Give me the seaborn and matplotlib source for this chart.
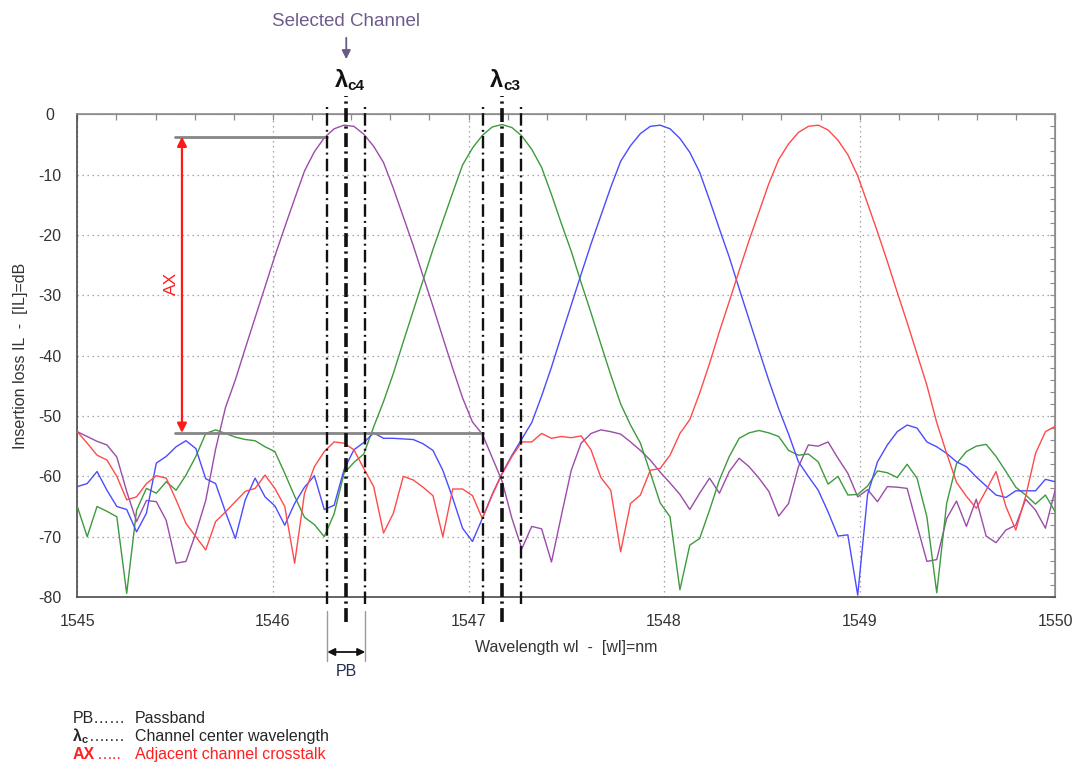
import numpy as np
import pandas as pd
import matplotlib
matplotlib.use("Agg")
import matplotlib.pyplot as plt
import seaborn as sns
from matplotlib.patches import FancyArrowPatch
from matplotlib.ticker import MultipleLocator, StrMethodFormatter

# ---- measured filter transmission, insertion loss in dB ----
wavelength = np.linspace(1545.0, 1550.0, 100)  # nm

il_ch4 = [
    -52.6, -53.4, -54.2, -54.8, -56.8, -62.5, -67.5, -64.0, -64.2, -67.3,
    -74.4, -74.1, -69.4, -64.0, -55.5, -48.6, -44.0, -38.8, -33.7, -28.6,
    -23.5, -18.7, -14.0, -9.4, -6.2, -3.9, -2.4, -1.8, -2.0, -3.3,
    -5.3, -8.0, -12.3, -17.0, -21.7, -26.8, -31.8, -37.0, -42.1, -47.0,
    -51.0, -53.0, -56.9, -60.8, -67.0, -72.0, -68.3, -68.7, -74.2, -66.5,
    -59.0, -54.5, -52.9, -52.3, -52.6, -53.0, -54.3, -55.7, -57.3, -59.3,
    -61.1, -63.0, -65.5, -62.8, -60.3, -62.8, -59.2, -57.0, -58.4, -60.3,
    -62.5, -66.6, -64.5, -58.4, -54.8, -55.0, -54.3, -57.0, -59.5, -63.4,
    -62.2, -64.2, -61.7, -61.8, -62.0, -68.1, -74.1, -73.8, -67.0, -64.1,
    -68.3, -63.8, -69.9, -71.0, -68.9, -68.1, -63.8, -65.6, -68.6, -62.2,
]

il_ch3 = [
    -65.0, -70.0, -65.0, -65.8, -66.7, -79.4, -65.6, -62.0, -62.8, -60.9,
    -62.3, -59.8, -56.7, -52.9, -52.3, -52.9, -53.5, -53.9, -54.1, -55.1,
    -55.9, -59.5, -63.3, -66.8, -68.0, -70.0, -66.2, -59.5, -57.7, -56.3,
    -51.8, -47.6, -42.9, -37.7, -32.6, -27.5, -22.4, -17.7, -13.0, -8.4,
    -5.6, -3.5, -2.1, -1.7, -2.2, -3.6, -5.8, -8.8, -13.3, -18.1,
    -22.7, -27.9, -32.9, -38.1, -43.2, -48.0, -51.5, -54.5, -59.4, -64.4,
    -66.7, -78.8, -71.4, -70.3, -65.6, -60.6, -56.7, -53.7, -52.8, -52.4,
    -52.8, -53.4, -55.7, -56.5, -56.3, -57.6, -61.3, -60.0, -63.1, -63.0,
    -61.6, -59.1, -59.4, -60.2, -58.0, -60.3, -66.7, -79.3, -64.5, -57.9,
    -55.9, -55.0, -54.7, -56.7, -59.2, -61.8, -63.1, -64.6, -63.1, -65.9,
]

il_ch2 = [
    -61.7, -61.2, -59.2, -62.3, -65.0, -65.5, -69.2, -66.1, -57.8, -56.7,
    -55.1, -54.1, -55.4, -60.4, -61.2, -65.9, -70.3, -63.9, -60.3, -63.4,
    -64.9, -68.1, -64.5, -61.8, -59.9, -65.5, -64.8, -58.9, -55.6, -54.4,
    -52.8, -53.7, -53.7, -53.8, -53.9, -54.6, -55.7, -59.0, -63.6, -68.6,
    -70.8, -67.0, -63.0, -59.5, -56.5, -53.8, -51.1, -46.7, -41.9, -36.7,
    -31.6, -26.5, -21.5, -16.8, -12.1, -7.8, -5.2, -3.2, -2.0, -1.8,
    -2.4, -4.0, -6.3, -9.6, -14.2, -19.0, -23.7, -28.9, -34.0, -39.1,
    -44.1, -48.8, -53.0, -57.6, -60.0, -62.3, -65.9, -69.9, -69.7, -79.7,
    -63.0, -57.6, -54.8, -52.6, -51.5, -52.0, -54.3, -55.1, -56.2, -57.6,
    -58.4, -60.1, -61.6, -63.1, -63.5, -62.4, -62.4, -62.4, -60.5, -60.9,
]

il_ch1 = [
    -52.6, -54.5, -56.5, -57.3, -60.0, -63.9, -63.4, -61.2, -59.9, -60.3,
    -63.9, -67.8, -70.0, -72.2, -67.5, -65.9, -64.2, -62.5, -62.0, -59.8,
    -62.0, -65.0, -74.4, -62.8, -58.4, -55.9, -54.3, -54.5, -55.6, -58.7,
    -61.7, -69.4, -66.1, -60.0, -60.6, -61.8, -63.2, -70.0, -62.1, -62.1,
    -63.2, -67.0, -63.1, -59.6, -56.7, -54.3, -54.3, -52.9, -53.7, -53.4,
    -53.6, -53.3, -55.6, -60.2, -62.3, -72.5, -64.5, -63.1, -59.0, -58.7,
    -56.5, -52.9, -50.6, -46.2, -41.3, -36.0, -31.0, -25.9, -20.9, -16.2,
    -11.5, -7.5, -4.9, -3.0, -2.0, -1.8, -2.6, -4.3, -6.7, -10.2,
    -14.8, -19.5, -24.4, -29.5, -34.5, -39.7, -44.9, -51.1, -56.2, -61.0,
    -63.3, -65.3, -62.3, -59.2, -65.0, -68.9, -63.3, -56.2, -52.6, -51.7,
]

channel_names = ["ch4", "ch3", "ch2", "ch1"]
channel_colors = ["#9b4ca9", "#3d9b3d", "#4b4bff", "#ff4a4a"]

# channel centres, passband half-width and crosstalk reference levels
lambda_c4 = 1546.375
lambda_c3 = 1547.170
passband_half = 0.097
ax_top_level = -3.7
ax_floor_level = -52.8
ax_ref_start = 1545.5
ax_arrow_x = 1545.535

df = pd.DataFrame({
    "wavelength": np.tile(wavelength, len(channel_names)),
    "il": np.concatenate([il_ch4, il_ch3, il_ch2, il_ch1]),
    "channel": np.repeat(channel_names, len(wavelength)),
})

# ---- figure / style ----
W, H = 1079, 767
sns.set_style("white")
plt.rcParams["font.family"] = ["Liberation Sans", "DejaVu Sans"]
plt.rcParams["lines.scale_dashes"] = False
plt.rcParams["axes.unicode_minus"] = False

fig = plt.figure(figsize=(W / 100, H / 100), dpi=100)
AX_L, AX_R, AX_T, AX_B = 77.3, 1055.3, 114.3, 597.0
ax = fig.add_axes([AX_L / W, 1 - AX_B / H, (AX_R - AX_L) / W, (AX_B - AX_T) / H])


def fy(ypx):
    """pixel row -> axes-fraction y"""
    return (AX_B - ypx) / (AX_B - AX_T)


sns.lineplot(data=df, x="wavelength", y="il", hue="channel",
             hue_order=channel_names, palette=channel_colors,
             linewidth=1.0, estimator=None, sort=False, legend=False,
             ax=ax, zorder=3)

ax.set_xlim(1545, 1550)
ax.set_ylim(-80, 0)
ax.set_axisbelow(True)
ax.grid(True, which="major", color="#9c9c9c", linestyle=(0, (1, 2.6)), linewidth=0.9)

ax.xaxis.set_major_locator(MultipleLocator(1))
ax.xaxis.set_minor_locator(MultipleLocator(0.2))
ax.yaxis.set_major_locator(MultipleLocator(10))
ax.yaxis.set_minor_locator(MultipleLocator(2))
ax.xaxis.set_major_formatter(StrMethodFormatter("{x:.0f}"))
ax.yaxis.set_major_formatter(StrMethodFormatter("{x:.0f}"))

ax.tick_params(which="major", direction="inout", length=11, width=1.0,
               color="#555555", labelsize=11.5, labelcolor="#333333")
ax.tick_params(which="minor", direction="inout", length=7, width=0.9, color="#555555")
ax.tick_params(axis="x", which="major", pad=7)
ax.tick_params(axis="y", which="major", pad=14)
plt.setp(ax.get_yticklabels(), ha="center")

for side in ("left", "bottom"):
    ax.spines[side].set_color("#4a4a4a")
    ax.spines[side].set_linewidth(1.2)
for side in ("top", "right"):
    ax.spines[side].set_color("#8c8c8c")
    ax.spines[side].set_linewidth(1.2)

sec_top = ax.secondary_xaxis("top")
sec_top.xaxis.set_major_locator(MultipleLocator(1))
sec_top.xaxis.set_minor_locator(MultipleLocator(0.2))
sec_top.tick_params(which="both", direction="in", length=4.5, width=0.9,
                    color="#8c8c8c", labeltop=False, labelbottom=False)
sec_top.spines["top"].set_color("#8c8c8c")

sec_right = ax.secondary_yaxis("right")
sec_right.yaxis.set_major_locator(MultipleLocator(10))
sec_right.yaxis.set_minor_locator(MultipleLocator(2))
sec_right.tick_params(which="both", direction="in", length=3.5, width=0.8,
                      color="#8c8c8c", labelright=False, labelleft=False)
sec_right.spines["right"].set_color("#8c8c8c")

ax.set_xlabel("Wavelength wl  -  [wl]=nm", fontsize=11.5, color="#333333")
ax.set_ylabel("Insertion loss IL  -  [IL]=dB", fontsize=11.5, color="#333333")
ax.xaxis.set_label_coords(0.5, fy(640))
ax.yaxis.set_label_coords((28 - AX_L) / (AX_R - AX_L), 0.5)

# ---- channel centre and passband markers ----
trans = ax.get_xaxis_transform()
center_style = (0, (10, 3.2, 1.6, 3.2))
edge_style = (0, (9, 3.0, 1.4, 3.0))
for c in (lambda_c4, lambda_c3):
    ax.plot([c, c], [fy(622), fy(96)], transform=trans, color="#111111",
            lw=2.6, ls=center_style, clip_on=False, zorder=6)
    for e in (c - passband_half, c + passband_half):
        ax.plot([e, e], [fy(604), fy(104)], transform=trans, color="#111111",
                lw=1.7, ls=edge_style, clip_on=False, zorder=6)

for c, sub in ((lambda_c4, "c4"), (lambda_c3, "c3")):
    ax.text(c + 0.008, fy(87), "λ", transform=trans, ha="right", va="baseline",
            fontsize=17, fontweight="bold", color="#111111")
    ax.text(c + 0.008, fy(90), sub, transform=trans, ha="left", va="baseline",
            fontsize=11, fontweight="bold", color="#111111")

# selected channel callout
ax.text(lambda_c4, fy(26), "Selected Channel", transform=trans, ha="center",
        va="baseline", fontsize=13.5, color="#6f5a8e")
ax.add_patch(FancyArrowPatch((lambda_c4, fy(35)), (lambda_c4, fy(62)),
                             transform=trans, arrowstyle="-|>", mutation_scale=13,
                             color="#6a5a88", lw=1.3, clip_on=False))

# passband width marker
pb_lo, pb_hi = lambda_c4 - passband_half, lambda_c4 + passband_half
for e in (pb_lo, pb_hi):
    ax.plot([e, e], [fy(611), fy(661)], transform=trans, color="#9a9a9a",
            lw=1.0, clip_on=False, zorder=6)
ax.add_patch(FancyArrowPatch((pb_lo, fy(652)), (pb_hi, fy(652)), transform=trans,
                             arrowstyle="<|-|>", mutation_scale=11, color="#111111",
                             lw=1.3, shrinkA=0, shrinkB=0, clip_on=False))
ax.text(lambda_c4, fy(671), "PB", transform=trans, ha="center", va="center",
        fontsize=11.5, color="#1f2d4f")

# adjacent channel crosstalk
ax.plot([ax_ref_start, pb_lo], [ax_top_level, ax_top_level], color="#858585", lw=2.0, zorder=4)
ax.plot([ax_ref_start, lambda_c3 - passband_half], [ax_floor_level, ax_floor_level],
        color="#858585", lw=2.0, zorder=4)
ax.add_patch(FancyArrowPatch((ax_arrow_x, ax_top_level), (ax_arrow_x, ax_floor_level),
                             arrowstyle="<|-|>", mutation_scale=14, color="#ff1a1a",
                             lw=1.6, shrinkA=0, shrinkB=0, zorder=5))
ax.text(1545.48, -28, "AX", rotation=90, ha="center", va="center",
        fontsize=12.5, color="#ff2020")

# ---- abbreviations ----
def ftxt(xpx, ypx, s, **kw):
    fig.text(xpx / W, 1 - ypx / H, s, va="baseline", **kw)

key_fs = 11.5
ftxt(73, 723, "PB……", fontsize=key_fs, color="#262626")
ftxt(135, 723, "Passband", fontsize=key_fs, color="#262626")
ftxt(73, 741, "λ", fontsize=key_fs, fontweight="bold", color="#262626")
ftxt(82, 743, "c", fontsize=8, fontweight="bold", color="#262626")
ftxt(89, 741, "…….", fontsize=key_fs, color="#262626")
ftxt(135, 741, "Channel center wavelength", fontsize=key_fs, color="#262626")
ftxt(73, 759, "AX", fontsize=key_fs, fontweight="bold", color="#ff2020")
ftxt(97, 759, "…..", fontsize=key_fs, color="#ff2020")
ftxt(135, 759, "Adjacent channel crosstalk", fontsize=key_fs, color="#ff2020")

fig.savefig("out.png", dpi=100, facecolor="white")
